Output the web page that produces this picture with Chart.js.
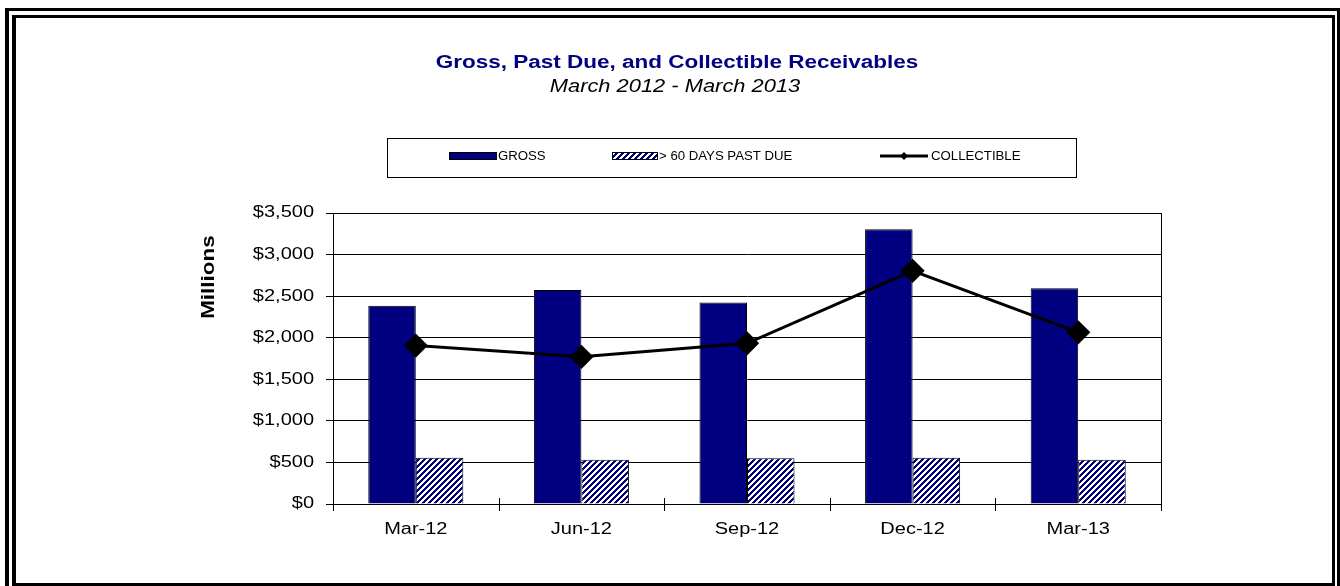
<!DOCTYPE html>
<html>
<head>
<meta charset="utf-8">
<title>Gross, Past Due, and Collectible Receivables</title>
<script src="https://cdn.jsdelivr.net/npm/chart.js@4.4.0/dist/chart.umd.min.js"></script>
<style>
    body { margin: 0; background: #fff; }
    #wrap { position: relative; width: 1340px; height: 586px; }
</style>
</head>
<body>
<div id="wrap"><canvas id="receivablesChart"></canvas></div>
<script>
// Data (millions of dollars)
const categories = ['Mar-12', 'Jun-12', 'Sep-12', 'Dec-12', 'Mar-13'];
const gross = [2385, 2575, 2425, 3305, 2595];
const pastDue = [557, 533, 550, 557, 533];
const collectible = [1905, 1770, 1933, 2805, 2065];
const yTickValues = [0, 500, 1000, 1500, 2000, 2500, 3000, 3500];
const yTickLabels = ['$0', '$500', '$1,000', '$1,500', '$2,000', '$2,500', '$3,000', '$3,500'];

const NAVY = '#000080';
const FONT = '"Liberation Sans", Arial, sans-serif';

// diagonal navy/white hatch for the past due bars (crisp pixels)
function makeHatch() {
    const s = 6;
    const c = document.createElement('canvas');
    c.width = s;
    c.height = s;
    const g = c.getContext('2d');
    g.fillStyle = '#fff';
    g.fillRect(0, 0, s, s);
    g.fillStyle = NAVY;
    for (let i = 0; i < s; i++) {
        for (let j = 0; j < s; j++) {
            if ((i + j) % s < 3) g.fillRect(i, j, 1, 1);
        }
    }
    return g.createPattern(c, 'repeat');
}
const hatch = makeHatch();

// the reference text is horizontally widened, so stretch it along its own direction
function wideText(ctx, text, x, y, font, color, align, angle, stretch) {
    ctx.save();
    ctx.translate(x, y);
    if (angle) ctx.rotate(angle);
    ctx.scale(stretch || 1.25, 1);
    ctx.font = font;
    ctx.fillStyle = color;
    ctx.textAlign = align;
    ctx.textBaseline = 'middle';
    ctx.fillText(text, 0, 0);
    ctx.restore();
}

const decorations = {
    id: 'decorations',
    beforeDraw(chart) {
        const ctx = chart.ctx;
        ctx.save();
        ctx.fillStyle = '#fff';
        ctx.fillRect(0, 0, chart.width, chart.height);
        // double frame
        ctx.fillStyle = '#000';
        ctx.fillRect(5, 8, 1340, 3);
        ctx.fillRect(5, 8, 4, 600);
        ctx.fillRect(1337, 8, 3, 600);
        ctx.fillRect(12, 15, 1323, 3);
        ctx.fillRect(12, 15, 4, 600);
        ctx.fillRect(1332, 15, 3, 600);
        ctx.fillRect(12, 583, 1323, 3);
        ctx.restore();

        // titles
        wideText(ctx, 'Gross, Past Due, and Collectible Receivables', 677, 63, 'bold 18px ' + FONT, NAVY, 'center');
        wideText(ctx, 'March 2012 - March 2013', 675, 87, 'italic 17.5px ' + FONT, '#000', 'center');

        // legend box
        ctx.save();
        ctx.strokeStyle = '#000';
        ctx.lineWidth = 1;
        ctx.strokeRect(387.5, 138.5, 689, 39);
        ctx.fillStyle = NAVY;
        ctx.fillRect(449, 152, 48, 8);
        ctx.strokeRect(449.5, 152.5, 47, 7);
        ctx.fillStyle = hatch;
        ctx.fillRect(612, 152, 46, 8);
        ctx.strokeRect(612.5, 152.5, 45, 7);
        ctx.lineWidth = 3;
        ctx.beginPath();
        ctx.moveTo(880, 156);
        ctx.lineTo(928, 156);
        ctx.stroke();
        ctx.fillStyle = '#000';
        ctx.beginPath();
        ctx.moveTo(904, 152); ctx.lineTo(908, 156); ctx.lineTo(904, 160); ctx.lineTo(900, 156);
        ctx.closePath();
        ctx.fill();
        ctx.restore();
        wideText(ctx, 'GROSS', 498, 157, '12px ' + FONT, '#000', 'left', 0, 1.1);
        wideText(ctx, '> 60 DAYS PAST DUE', 659, 157, '12px ' + FONT, '#000', 'left', 0, 1.1);
        wideText(ctx, 'COLLECTIBLE', 931, 157, '12px ' + FONT, '#000', 'left', 0, 1.1);
    },
    beforeDatasetsDraw(chart) {
        const ctx = chart.ctx;
        const area = chart.chartArea;
        const x = chart.scales.x;
        const y = chart.scales.y;
        ctx.save();
        ctx.strokeStyle = '#000';
        ctx.lineWidth = 1;
        ctx.strokeRect(Math.round(area.left) + 0.5, Math.round(area.top) + 0.5,
            Math.round(area.right - area.left), Math.round(area.bottom - area.top));
        // cross tick marks between categories
        const step = (x.getPixelForValue(1) - x.getPixelForValue(0));
        ctx.beginPath();
        for (let i = 0; i <= categories.length; i++) {
            const px = Math.round(x.getPixelForValue(i) - step / 2) + 0.5;
            ctx.moveTo(px, area.bottom - 6);
            ctx.lineTo(px, area.bottom + 7);
        }
        ctx.stroke();
        ctx.restore();

        // axis labels
        yTickValues.forEach((v, i) => {
            wideText(ctx, yTickLabels[i], 314, y.getPixelForValue(v), '16px ' + FONT, '#000', 'right');
        });
        categories.forEach((c, i) => {
            wideText(ctx, c, x.getPixelForValue(i), 530, '16px ' + FONT, '#000', 'center');
        });
        wideText(ctx, 'Millions', 209, 277, 'bold 18px ' + FONT, '#000', 'center', -Math.PI / 2);
    }
};

const ctx = document.getElementById('receivablesChart').getContext('2d');
new Chart(ctx, {
    type: 'bar',
    data: {
        labels: categories,
        datasets: [
            {
                type: 'line',
                label: 'COLLECTIBLE',
                data: collectible,
                borderColor: '#000',
                borderWidth: 3,
                tension: 0,
                pointStyle: 'rectRot',
                pointRadius: 10,
                pointBackgroundColor: '#000',
                pointBorderColor: '#000',
                order: 0
            },
            {
                label: 'GROSS',
                data: gross,
                backgroundColor: NAVY,
                borderColor: '#000',
                borderWidth: 1,
                order: 1
            },
            {
                label: '> 60 DAYS PAST DUE',
                data: pastDue,
                backgroundColor: hatch,
                borderColor: '#000',
                borderWidth: 1,
                order: 2
            }
        ]
    },
    options: {
        responsive: true,
        maintainAspectRatio: false,
        animation: false,
        barPercentage: 1,
        categoryPercentage: 0.574,
        layout: {
            padding: { top: 213, right: 179, bottom: 0, left: 323 }
        },
        plugins: {
            legend: { display: false },
            tooltip: { enabled: false }
        },
        scales: {
            x: {
                offset: true,
                grid: { display: false },
                border: { display: true, color: '#000', width: 1 },
                ticks: { display: false },
                afterFit: function(scale) { scale.height = 82; }
            },
            y: {
                min: 0,
                max: 3500,
                ticks: { display: false, stepSize: 500 },
                grid: { color: '#000', lineWidth: 1, tickLength: 7 },
                border: { display: true, color: '#000', width: 1 },
                afterFit: function(scale) { scale.width = 10; }
            }
        }
    },
    plugins: [decorations]
});
</script>
</body>
</html>
